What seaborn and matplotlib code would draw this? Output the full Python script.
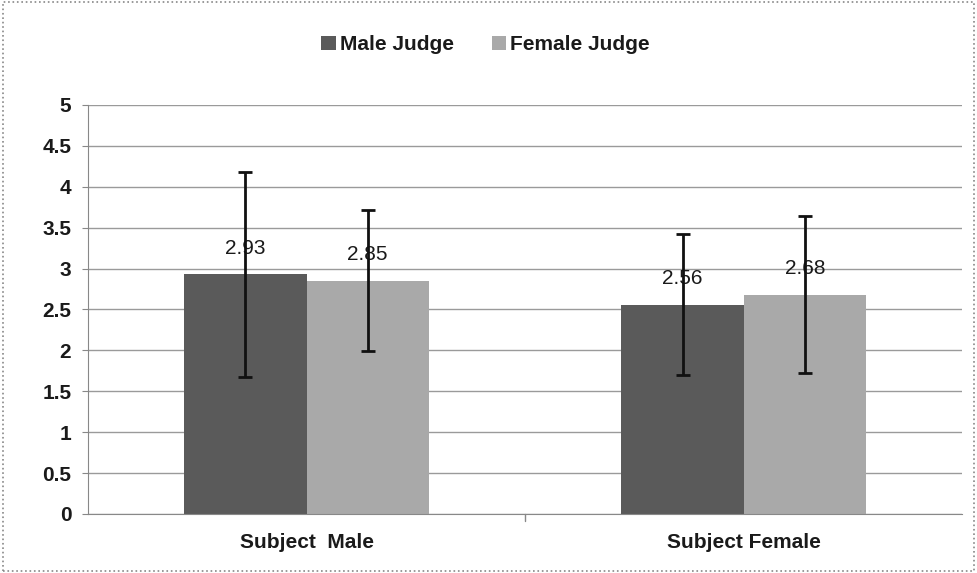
import matplotlib
matplotlib.use("Agg")
import matplotlib.pyplot as plt
import seaborn as sns
import pandas as pd
from matplotlib.patches import Rectangle

# data
subjects = ["Subject  Male", "Subject Female"]
judges = ["Male Judge", "Female Judge"]
male_judge = [2.93, 2.56]
female_judge = [2.85, 2.68]
male_judge_err = [1.25, 0.86]
female_judge_err = [0.86, 0.96]

df = pd.DataFrame({
    "subject": subjects * 2,
    "judge": [judges[0]] * 2 + [judges[1]] * 2,
    "score": male_judge + female_judge,
})
errs = {judges[0]: male_judge_err, judges[1]: female_judge_err}

sns.set_style("white")
plt.rcParams["font.family"] = ["Liberation Sans", "DejaVu Sans"]

fig = plt.figure(figsize=(9.77, 5.73), dpi=100)
ax = fig.add_axes([0.09, 0.103, 0.895, 0.714])

sns.barplot(data=df, x="subject", y="score", hue="judge", order=subjects,
            hue_order=judges, palette=["#5a5a5a", "#a9a9a9"], width=0.56,
            gap=0, errorbar=None, saturation=1, linewidth=0, ax=ax, legend=True)

for cont, judge in zip(ax.containers, judges):
    xs = [b.get_x() + b.get_width() / 2 for b in cont]
    ys = [b.get_height() for b in cont]
    ax.errorbar(xs, ys, yerr=errs[judge], fmt="none", ecolor="#111111",
                elinewidth=2, capsize=5, capthick=2, zorder=4)
    ax.bar_label(cont, fmt="%.2f", padding=12, fontsize=15, color="#1a1a1a")

ax.set_ylim(0, 5)
ax.set_xlim(-0.5, 1.5)
ax.set_yticks([i * 0.5 for i in range(11)])
ax.set_yticklabels(["0", "0.5", "1", "1.5", "2", "2.5", "3", "3.5", "4", "4.5", "5"],
                   fontsize=15, fontweight="bold")
for lbl in ax.get_xticklabels():
    lbl.set_fontweight("bold")
ax.yaxis.grid(True, color="#9a9a9a", lw=1)
ax.set_axisbelow(True)
ax.set_xlabel("")
ax.set_ylabel("")
ax.tick_params(axis="x", labelsize=15, length=0, pad=14, labelcolor="#1a1a1a")
ax.tick_params(axis="y", length=4, color="#888888", left=True, pad=8,
               labelcolor="#1a1a1a")
for s in ["top", "right"]:
    ax.spines[s].set_visible(False)
for s in ["left", "bottom"]:
    ax.spines[s].set_color("#888888")
# boundary tick between categories
ax.plot([0.5, 0.5], [0, -0.08], color="#888888", lw=1, clip_on=False)

leg = ax.legend(loc="center", bbox_to_anchor=(0.455, 1.147), ncol=2,
                frameon=False, handlelength=0.7, handleheight=0.7,
                handletextpad=0.2, columnspacing=1.8,
                prop={"size": 15, "weight": "bold"})
for t in leg.get_texts():
    t.set_color("#1a1a1a")

fig.patches.append(Rectangle((0.003, 0.003), 0.994, 0.994, transform=fig.transFigure,
                             fill=False, edgecolor="#888888", lw=1.2, ls=":"))

fig.savefig("out.png", dpi=100)
